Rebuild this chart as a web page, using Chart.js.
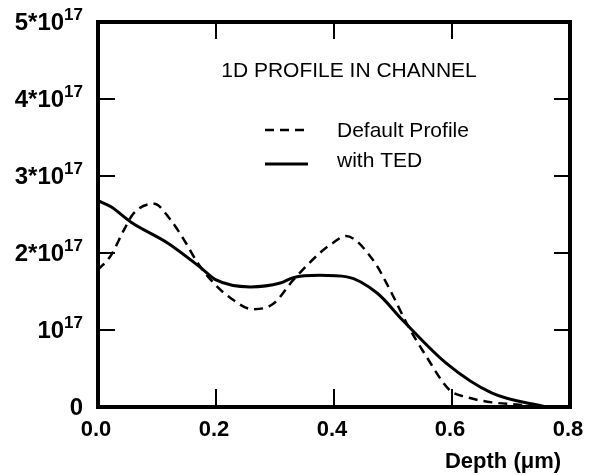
<!DOCTYPE html>
<html>
<head>
<meta charset="utf-8">
<script src="https://cdn.jsdelivr.net/npm/chart.js@4"></script>
<style>
  html, body { margin: 0; padding: 0; background: #fff; }
  #wrap { width: 591px; height: 475px; }
</style>
</head>
<body>
<div id="wrap"><canvas id="myChart" width="591" height="475"></canvas></div>
<script>
// values are in units of 10^17
const depthDefault = [0.0, 0.022, 0.044, 0.061, 0.095, 0.123, 0.149, 0.169, 0.196, 0.224, 0.262, 0.297, 0.331, 0.376, 0.398, 0.42, 0.466, 0.495, 0.523, 0.557, 0.596, 0.624, 0.668, 0.714, 0.76];
const defaultProfile = [1.78, 1.97, 2.30, 2.52, 2.64, 2.43, 2.13, 1.87, 1.61, 1.42, 1.27, 1.34, 1.65, 2.0, 2.13, 2.22, 1.91, 1.52, 1.09, 0.65, 0.22, 0.13, 0.06, 0.03, 0];

const depthTED = [0.0, 0.022, 0.056, 0.118, 0.174, 0.2, 0.258, 0.309, 0.331, 0.376, 0.422, 0.473, 0.516, 0.59, 0.668, 0.76];
const withTED = [2.68, 2.6, 2.40, 2.13, 1.81, 1.65, 1.56, 1.61, 1.68, 1.71, 1.69, 1.48, 1.13, 0.57, 0.18, 0];

const xTicks = [0, 0.2, 0.4, 0.6, 0.8];
const yTicks = [0, 1, 2, 3, 4, 5];

const chartTitle = '1D PROFILE IN CHANNEL';
const xTitle = 'Depth (\u03BCm)';

function toPoints(xs, ys) {
	let pts = [];
	for (let i = 0; i < xs.length; i++) pts.push({x: xs[i], y: ys[i]});
	return pts;
}

const frame = {
	id: 'frame',
	afterDatasetsDraw(chart) {
		const ctx = chart.ctx;
		const a = chart.chartArea;
		const xs = chart.scales.x, ys = chart.scales.y;
		ctx.save();
		ctx.strokeStyle = '#000';
		ctx.fillStyle = '#000';

		// frame
		ctx.lineWidth = 4;
		ctx.strokeRect(a.left, a.top, a.right - a.left, a.bottom - a.top);

		// inward tick marks
		ctx.lineWidth = 2;
		ctx.beginPath();
		xTicks.forEach(v => {
			if (v === xs.min || v === xs.max) return;
			const px = xs.getPixelForValue(v);
			ctx.moveTo(px, a.bottom); ctx.lineTo(px, a.bottom - 18);
			ctx.moveTo(px, a.top); ctx.lineTo(px, a.top + 17);
		});
		yTicks.forEach(v => {
			if (v === ys.min || v === ys.max) return;
			const py = ys.getPixelForValue(v);
			ctx.moveTo(a.left, py); ctx.lineTo(a.left + 17, py);
			ctx.moveTo(a.right, py); ctx.lineTo(a.right - 16, py);
		});
		ctx.stroke();

		// x tick labels
		ctx.font = 'bold 22px "Liberation Sans", Arial, sans-serif';
		ctx.textAlign = 'center';
		ctx.textBaseline = 'alphabetic';
		xTicks.forEach(v => {
			ctx.fillText(v.toFixed(1), xs.getPixelForValue(v) - 2, a.bottom + 29);
		});

		// y tick labels with superscript
		const right = a.left - 15;
		yTicks.forEach(v => {
			const py = ys.getPixelForValue(v);
			const base = v === 0 ? '0' : (v === 1 ? '10' : v + '*10');
			const sup = v === 0 ? '' : '17';
			ctx.font = 'bold 17px "Liberation Sans", Arial, sans-serif';
			const sw = ctx.measureText(sup).width;
			ctx.textAlign = 'right';
			ctx.fillText(sup, right, py - 2);
			ctx.font = 'bold 24px "Liberation Sans", Arial, sans-serif';
			ctx.fillText(base, right - sw, py + 8);
		});

		// axis title
		ctx.textAlign = 'center';
		ctx.font = 'bold 22px "Liberation Sans", Arial, sans-serif';
		ctx.fillText(xTitle, 503, 468);

		// chart title
		ctx.font = '21px "Liberation Sans", Arial, sans-serif';
		ctx.fillText(chartTitle, 349, 77);

		// legend
		ctx.font = '21px "Liberation Sans", Arial, sans-serif';
		ctx.textAlign = 'left';
		chart.data.datasets.forEach((ds, i) => {
			const ly = i === 0 ? 130 : 164;
			ctx.lineWidth = ds.borderWidth;
			ctx.setLineDash(ds.borderDash || []);
			ctx.beginPath();
			ctx.moveTo(265, ly); ctx.lineTo(308, ly);
			ctx.stroke();
			ctx.setLineDash([]);
			ctx.fillText(ds.label, 337, i === 0 ? 137 : 167);
		});
		ctx.restore();
	}
};

const data = {
	datasets: [{
		label: 'Default Profile',
		data: toPoints(depthDefault, defaultProfile),
		borderColor: '#000',
		borderWidth: 2.5,
		borderDash: [9, 6],
		pointRadius: 0,
		cubicInterpolationMode: 'monotone',
		fill: false
	}, {
		label: 'with TED',
		data: toPoints(depthTED, withTED),
		borderColor: '#000',
		borderWidth: 3,
		pointRadius: 0,
		cubicInterpolationMode: 'monotone',
		fill: false
	}]
};

const config = {
	type: 'line',
	data: data,
	options: {
		responsive: false,
		animation: false,
		layout: { padding: { left: 90, top: 22, right: 21, bottom: 60 } },
		plugins: {
			legend: { display: false },
			title: { display: false },
			tooltip: { enabled: false }
		},
		scales: {
			x: {
				type: 'linear', min: 0, max: 0.8,
				ticks: { display: false, stepSize: 0.2 },
				grid: { display: false },
				border: { display: false }
			},
			y: {
				min: 0, max: 5,
				ticks: { display: false, stepSize: 1 },
				grid: { display: false },
				border: { display: false }
			}
		}
	},
	plugins: [frame]
};

const myChart = new Chart(document.getElementById('myChart'), config);
</script>
</body>
</html>
